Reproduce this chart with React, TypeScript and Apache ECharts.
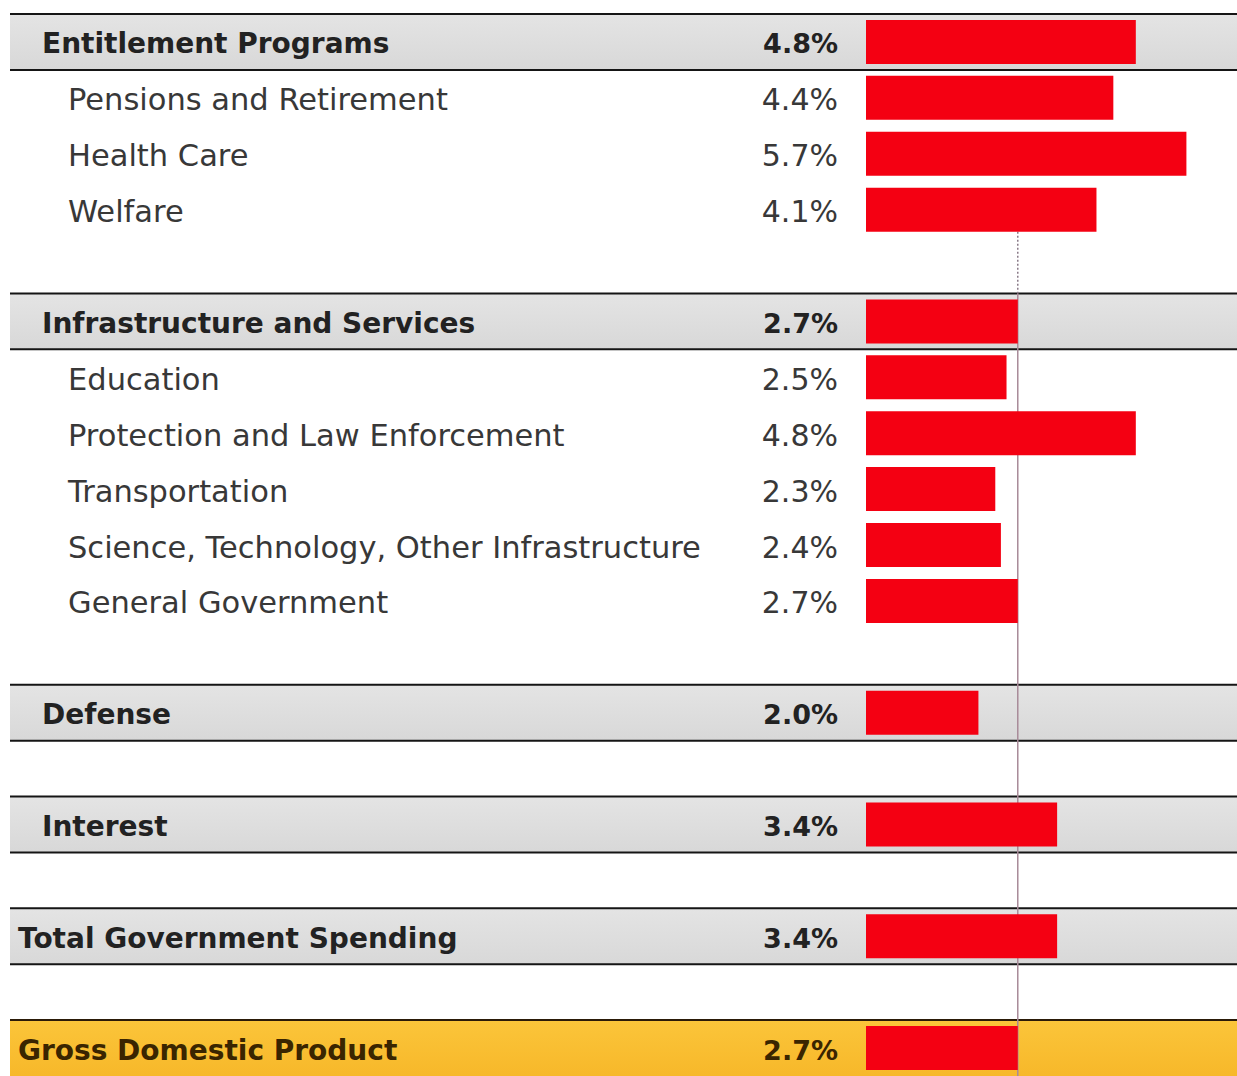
import React, { useEffect, useRef } from "react";
import * as echarts from "echarts";

const categories = [
  "Entitlement Programs",
  "Pensions and Retirement",
  "Health Care",
  "Welfare",
  "",
  "Infrastructure and Services",
  "Education",
  "Protection and Law Enforcement",
  "Transportation",
  "Science, Technology, Other Infrastructure",
  "General Government",
  "",
  "Defense",
  "",
  "Interest",
  "",
  "Total Government Spending",
  "",
  "Gross Domestic Product",
];

const values: (number | null)[] = [
  4.8, 4.4, 5.7, 4.1, null,
  2.7, 2.5, 4.8, 2.3, 2.4, 2.7, null,
  2.0, null,
  3.4, null,
  3.4, null,
  2.7,
];

// header | sub | blank | total | gdp
const rowKinds = [
  "header", "sub", "sub", "sub", "blank",
  "header", "sub", "sub", "sub", "sub", "sub", "blank",
  "header", "blank",
  "header", "blank",
  "total", "blank",
  "gdp",
];

const referenceValue = 2.7;
const referenceStartRow = 3;

const FONT = '"DejaVu Sans", sans-serif';

export default function App() {
  const ref = useRef<HTMLDivElement>(null);

  useEffect(() => {
    if (!ref.current) return;
    const chart = echarts.init(ref.current, null, { renderer: "svg" });
    const rowIds = categories.map((_, i) => String(i));

    const grayFill = new echarts.graphic.LinearGradient(0, 0, 0, 1, [
      { offset: 0, color: "#e4e4e4" },
      { offset: 1, color: "#d8d8d8" },
    ]);
    const gdpFill = new echarts.graphic.LinearGradient(0, 0, 0, 1, [
      { offset: 0, color: "#fbc53a" },
      { offset: 1, color: "#f7b82a" },
    ]);

    const renderRow = (params: any, api: any) => {
      const i = params.dataIndex;
      const kind = rowKinds[i];
      const [, cy] = api.coord([0, i]);
      const h = api.size([0, 1])[1];
      const W = api.getWidth();
      const children: any[] = [];
      const left = 10;
      if (kind === "header" || kind === "total" || kind === "gdp") {
        children.push({
          type: "rect",
          shape: { x: left, y: cy - h / 2, width: W - left, height: h },
          style: { fill: kind === "gdp" ? gdpFill : grayFill },
        });
        children.push({
          type: "line",
          shape: { x1: left, y1: cy - h / 2, x2: W, y2: cy - h / 2 },
          style: { stroke: kind === "gdp" ? "#2a1a08" : "#151515", lineWidth: 2 },
        });
        if (kind !== "gdp") {
          children.push({
            type: "line",
            shape: { x1: left, y1: cy + h / 2, x2: W, y2: cy + h / 2 },
            style: { stroke: "#151515", lineWidth: 2 },
          });
        }
      }
      if (kind !== "blank") {
        const bold = kind !== "sub";
        const tx = kind === "sub" ? 68 : kind === "header" ? 42 : 18;
        const color = kind === "gdp" ? "#3a2500" : bold ? "#222222" : "#383838";
        children.push({
          type: "text",
          x: tx,
          y: cy + 2,
          style: {
            text: categories[i],
            fill: color,
            fontFamily: FONT,
            fontSize: bold ? 28 : 30.5,
            fontWeight: bold ? "bold" : "normal",
            align: "left",
            verticalAlign: "middle",
            textAlign: "left",
            textVerticalAlign: "middle",
          },
        });
        const v = values[i];
        if (v != null) {
          children.push({
            type: "text",
            x: 838,
            y: cy + 2,
            style: {
              text: v.toFixed(1) + "%",
              fill: color,
              fontFamily: FONT,
              fontSize: bold ? 27 : 30,
              fontWeight: bold ? "bold" : "normal",
              align: "right",
              verticalAlign: "middle",
              textAlign: "right",
              textVerticalAlign: "middle",
            },
          });
        }
      }
      return { type: "group", children };
    };

    const renderRefLine = (params: any, api: any) => {
      const [x, y0c] = api.coord([referenceValue, referenceStartRow]);
      const h = api.size([0, 1])[1];
      const y0 = y0c + 22;
      const y1 = y0c + h * 1.5;
      const yEnd = api.coord([referenceValue, categories.length - 1])[1] + h / 2;
      return {
        type: "group",
        children: [
          {
            type: "line",
            shape: { x1: x, y1: y0, x2: x, y2: y1 },
            style: { stroke: "#8a7a88", lineWidth: 1.5, lineDash: [2, 2] },
          },
          {
            type: "line",
            shape: { x1: x, y1: y1, x2: x, y2: yEnd },
            style: { stroke: "#a88a98", lineWidth: 1.5 },
          },
        ],
      };
    };

    chart.setOption({
      animation: false,
      grid: { left: 866, top: 14, width: 371, height: 1067, containLabel: false },
      xAxis: {
        type: "value",
        min: 0,
        max: 6.6,
        show: false,
      },
      yAxis: {
        type: "category",
        data: rowIds,
        inverse: true,
        show: false,
      },
      series: [
        {
          type: "custom",
          renderItem: renderRow,
          data: categories.map((_, i) => [0, i]),
          encode: { x: 0, y: 1 },
          clip: false,
          z: 1,
          silent: true,
        },
        {
          type: "custom",
          renderItem: renderRefLine,
          data: [[referenceValue, referenceStartRow]],
          encode: { x: 0, y: 1 },
          clip: false,
          z: 2,
          silent: true,
        },
        {
          type: "bar",
          data: values.map((v) => (v == null ? "-" : v)),
          barWidth: 44,
          itemStyle: { color: "#f40012" },
          z: 3,
          silent: true,
        },
      ],
    });
    return () => chart.dispose();
  }, []);

  return (
    <div
      ref={ref}
      style={{ position: "absolute", left: 0, top: 0, width: 1237, height: 1076, background: "#ffffff" }}
    />
  );
}
